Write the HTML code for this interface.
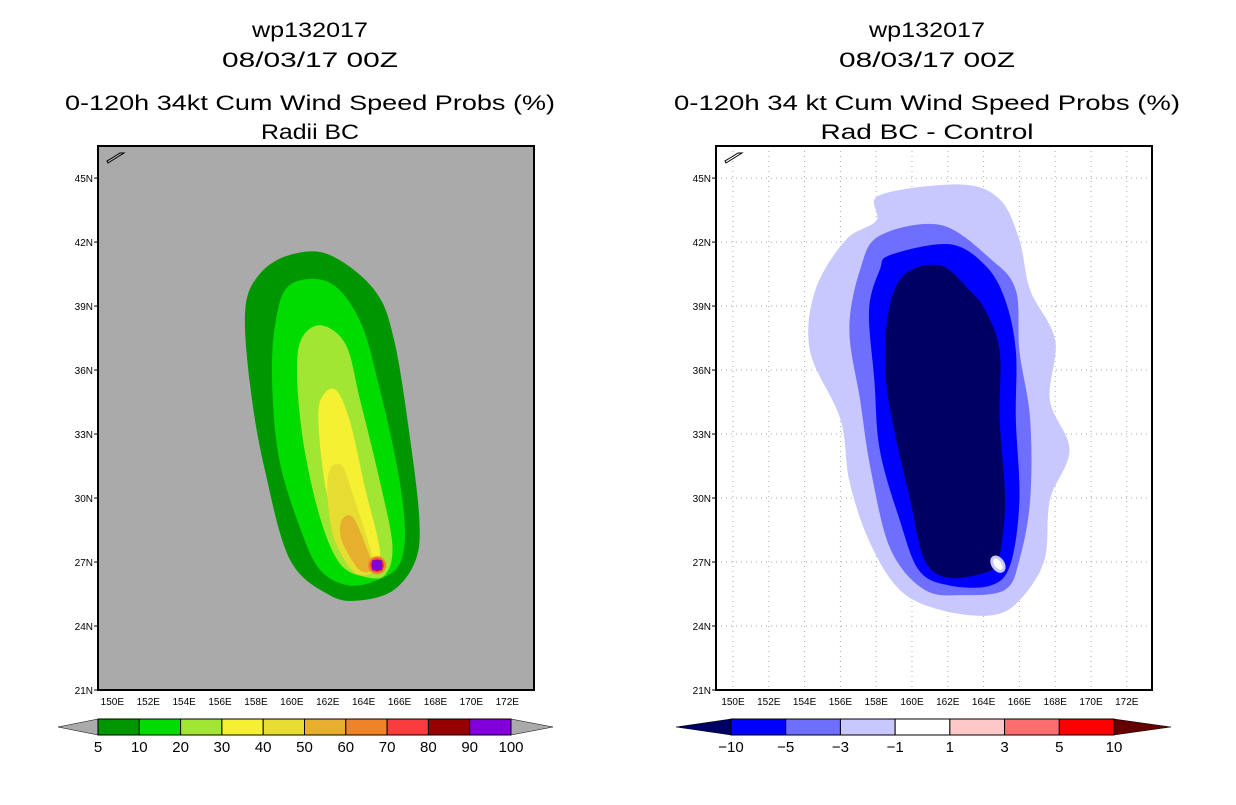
<!DOCTYPE html>
<html><head><meta charset="utf-8"><style>
body{margin:0;background:#fff;width:1236px;height:800px;overflow:hidden}
svg text{font-family:"Liberation Sans",sans-serif}
</style></head><body>
<svg id="s" width="1236" height="800" xmlns="http://www.w3.org/2000/svg"></svg>
<script>
const latTicks=[21,24,27,30,33,36,39,42,45];
const lonTicks=[150,152,154,156,158,160,162,164,166,168,170,172];
const leftLevels=["5","10","20","30","40","50","60","70","80","90","100"];
const leftColors=["#009600","#00dc00","#a0e632","#f5f032","#e6dc32","#e6af2d","#f08228","#fa3c3c","#960000","#8200dc"];
const rightLevels=["-10","-5","-3","-1","1","3","5","10"];
const rightColors=["#0000ff","#6e6eff","#c8c8ff","#ffffff","#ffc8c8","#ff6e6e","#ff0000"];
const c05=[[159.9,41.4],[162.1,41.4],[164.6,39.75],[165.7,37.4],[166.6,32.7],[167.1,29.0],[166.9,27.1],[165.7,25.7],[163.8,25.2],[162.1,25.45],[159.9,27.1],[158.5,31.3],[157.7,35.1],[157.4,38.8],[158.2,40.5]];
const c10=[[159.9,40.0],[162.1,40.1],[163.8,38.3],[164.9,35.1],[165.9,31.3],[166.3,28.5],[166.0,26.9],[164.9,26.2],[163.2,25.9],[161.6,26.6],[160.5,28.5],[159.3,31.8],[158.9,35.5],[159.1,38.3]];
const c20=[[160.5,37.4],[161.6,38.1],[163.0,37.2],[163.8,34.6],[164.9,30.8],[165.6,27.8],[165.2,26.4],[164.1,26.3],[162.7,26.9],[161.6,29.0],[160.7,32.3],[160.3,35.5]];
const c30=[[161.6,34.6],[162.4,35.1],[163.2,33.7],[164.1,30.4],[164.9,27.6],[164.6,26.9],[163.8,26.9],[162.7,27.8],[161.9,30.4],[161.5,33.2]];
const c40=[[162.1,31.3],[162.8,31.5],[163.5,29.9],[164.3,27.8],[164.6,26.6],[163.5,26.5],[162.4,28.0],[162.0,29.9]];
const c50=[[162.8,29.0],[163.4,29.1],[164.1,27.8],[164.5,26.7],[163.8,26.6],[163.0,27.6],[162.7,28.3]];
const peak=[164.75,26.85];
const d1=[[158.2,44.2],[162.7,44.7],[164.9,44.0],[166.0,42.1],[166.6,39.75],[168.0,37.4],[167.7,34.6],[168.8,32.25],[167.7,29.9],[167.4,27.1],[166.0,25.2],[164.4,24.5],[161.6,24.75],[159.3,25.7],[157.6,28.0],[156.5,30.8],[156.0,33.7],[154.3,36.9],[154.6,39.75],[156.3,42.1],[158.0,43.0]];
const d3=[[158.2,42.3],[161.6,42.8],[164.4,41.2],[165.8,39.75],[166.0,36.9],[166.6,33.7],[166.6,29.9],[166.0,27.1],[165.2,25.7],[162.9,25.45],[160.7,25.7],[158.8,27.6],[157.7,31.3],[157.1,34.6],[156.5,37.9],[157.1,40.7]];
const d5=[[158.8,41.4],[162.1,41.9],[164.1,40.9],[165.2,39.3],[165.8,36.9],[165.8,33.7],[166.0,29.9],[165.5,26.9],[164.4,25.9],[162.1,25.9],[160.4,26.6],[159.3,29.0],[158.2,32.25],[157.9,35.5],[157.6,38.8],[158.2,40.7]];
const d10=[[159.6,40.5],[161.6,40.9],[163.2,39.75],[164.1,38.8],[164.9,36.9],[164.9,33.7],[165.2,29.9],[164.9,27.3],[164.4,26.6],[162.1,26.25],[160.7,27.1],[159.9,29.9],[159.0,33.2],[158.5,36.0],[158.7,38.8]];
const whiteSpot=[164.8,26.9];

const S=document.getElementById('s');const NS='http://www.w3.org/2000/svg';
function mk(t,a,p){const e=document.createElementNS(NS,t);for(const k in a)e.setAttribute(k,a[k]);(p||S).appendChild(e);return e;}
function axes(x0){const lon0=x0===98?149.2:149.05;const k=x0===98?17.95:17.9;
 return {x:l=>x0+(l-lon0)*k,y:la=>690-(la-21)*21.33};}
function smooth(pts,ax){const P=pts.map(p=>[ax.x(p[0]),ax.y(p[1])]);const n=P.length;let d=`M${P[0][0]},${P[0][1]}`;
 for(let i=0;i<n;i++){const p0=P[(i-1+n)%n],p1=P[i],p2=P[(i+1)%n],p3=P[(i+2)%n];
 d+=`C${p1[0]+(p2[0]-p0[0])/6},${p1[1]+(p2[1]-p0[1])/6} ${p2[0]-(p3[0]-p1[0])/6},${p2[1]-(p3[1]-p1[1])/6} ${p2[0]},${p2[1]}`;}return d+'Z';}
function title(cx,l1,l2,w1,w2){[["wp132017",37,'storm-id',116],["08/03/17 00Z",67,'date',176],[l1,110,'title',w1],[l2,139,'subtitle',w2]].forEach(t=>{
 const e=mk('text',{x:cx,y:t[1],'text-anchor':'middle','font-size':21,fill:'#000',textLength:t[3],lengthAdjust:'spacingAndGlyphs'});e.textContent=t[0];
 
 });}
function frame(x0,ax,bg,grid,name){const g=mk('g',{});
 
 
 mk('rect',{x:x0,y:146,width:436,height:544,fill:bg},g);
 if(grid){lonTicks.forEach(l=>mk('line',{x1:ax.x(l),x2:ax.x(l),y1:146,y2:690,stroke:'#aaa','stroke-dasharray':'1 4'},g));
  latTicks.forEach(l=>mk('line',{x1:x0,x2:x0+436,y1:ax.y(l),y2:ax.y(l),stroke:'#aaa','stroke-dasharray':'1 4'},g));}
 return g;}
function frameTop(x0,ax,g){
 mk('path',{d:`M${x0+10},${163}l8,-5l8,-5l-4,0l-8,5l-5,3z`,fill:'none',stroke:'#000','stroke-width':1},g);
 mk('rect',{x:x0,y:146,width:436,height:544,fill:'none',stroke:'#000','stroke-width':2},g);
 latTicks.forEach(l=>{mk('line',{x1:x0-4,x2:x0,y1:ax.y(l),y2:ax.y(l),stroke:'#000'},g);
  const t=mk('text',{x:x0-5,y:ax.y(l)+4,'text-anchor':'end','font-size':10},g);t.textContent=l+'N';
  
  });
 lonTicks.forEach(l=>{const t=mk('text',{x:ax.x(l),y:705,'text-anchor':'middle','font-size':10},g);t.textContent=l+'E';
  
  });}
title(310,"0-120h 34kt Cum Wind Speed Probs (%)","Radii BC",490,98);
const A=axes(98);const gL=frame(98,A,'#aaaaaa',false,'left-map');
[c05,c10,c20,c30,c40,c50].forEach((c,i)=>{const p=mk('path',{d:smooth(c,A),fill:leftColors[i]},gL);
 
 });
[[9,leftColors[6]],[7,leftColors[7]],[5.5,leftColors[8]],[4.5,leftColors[9]]].forEach((r,i)=>{
 const e=mk(i==3?'rect':'circle',i==3?{x:A.x(peak[0])-5,y:A.y(peak[1])-5,width:10,height:10,fill:r[1]}:{cx:A.x(peak[0]),cy:A.y(peak[1]),r:r[0],fill:r[1]},gL);
 
 });
frameTop(98,A,gL);
title(927,"0-120h 34 kt Cum Wind Speed Probs (%)","Rad BC - Control",506,213);
const B=axes(716);const gR=frame(716,B,'#fff',true,'right-map');
[[d1,"#c8c8ff"],[d3,"#6e6eff"],[d5,"#0000ff"],[d10,"#000064"]].forEach((c,i)=>{const p=mk('path',{d:smooth(c[0],B),fill:c[1]},gR);
 
 });
const ws=mk('ellipse',{cx:B.x(whiteSpot[0]),cy:B.y(whiteSpot[1]),rx:5,ry:8,fill:'#fff',stroke:'#c8c8ff','stroke-width':3,transform:`rotate(-35 ${B.x(whiteSpot[0])} ${B.y(whiteSpot[1])})`},gR);


frameTop(716,B,gR);
function cbar(x0,x1,xl,xr,colors,labels,lc,rc,name){const g=mk('g',{});
 
 
 const w=(x1-x0)/colors.length;
 mk('path',{d:`M${xl},727L${x0},719L${x0},735Z`,fill:lc,stroke:'#000','stroke-width':0.5},g);
 mk('path',{d:`M${xr},727L${x1},719L${x1},735Z`,fill:rc,stroke:'#000','stroke-width':0.5},g);
 colors.forEach((c,i)=>mk('rect',{x:x0+i*w,y:719,width:w,height:16,fill:c,stroke:'#000','stroke-width':1},g));
 labels.forEach((l,i)=>{const t=mk('text',{x:x0+(i)*w,y:752,'text-anchor':'middle','font-size':15},g);t.textContent=l.replace('-','\u2212');
  
  });}
cbar(98,511,58,553,leftColors,leftLevels,'#aaaaaa','#aaaaaa','left-colorbar');
cbar(731,1114,676,1171,rightColors,rightLevels,'#000064','#640000','right-colorbar');
</script>
</body></html>
